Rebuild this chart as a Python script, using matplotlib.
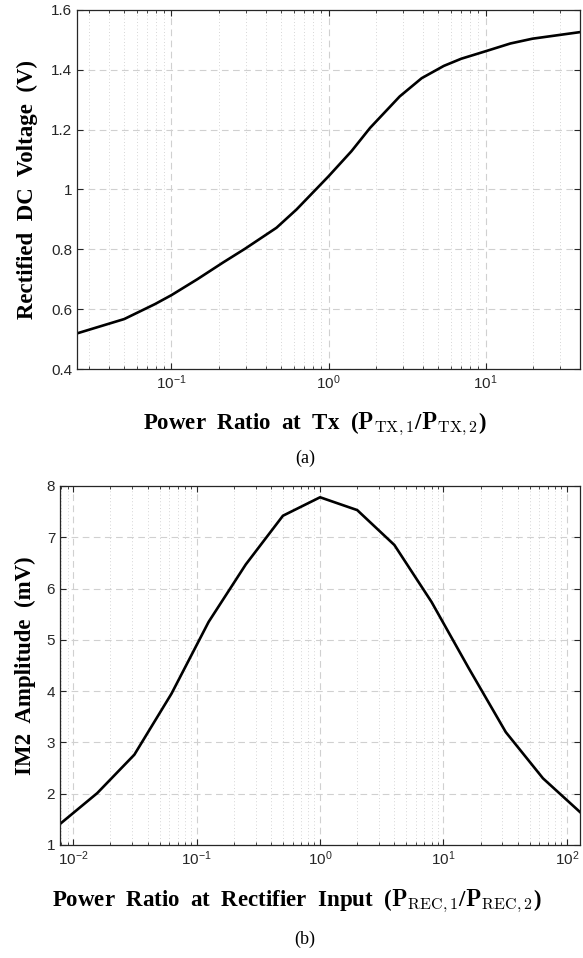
import numpy as np
import matplotlib
matplotlib.use("Agg")
from matplotlib import pyplot as plt
from matplotlib.ticker import LogLocator, FormatStrFormatter, NullFormatter

plt.rcParams["font.family"] = ["Liberation Sans", "DejaVu Sans"]
plt.rcParams["mathtext.fontset"] = "cm"

# (a) rectified DC voltage vs power ratio at Tx
ratio_tx = [0.025, 0.05, 0.0785, 0.1, 0.146, 0.213, 0.294, 0.466, 0.625, 1.0,
            1.4, 1.84, 2.84, 3.92, 5.42, 7.0, 8.8, 10.0, 14.4, 19.9, 40.0]
vdc = [0.519, 0.567, 0.617, 0.647, 0.700, 0.756, 0.802, 0.872, 0.933, 1.044,
       1.128, 1.206, 1.311, 1.372, 1.413, 1.437, 1.453, 1.462, 1.488, 1.504, 1.526]

# (b) IM2 amplitude vs power ratio at rectifier input
ratio_rec = [2.0 ** k for k in range(-7, 8)]
im2 = [1.41, 2.01, 2.76, 3.95, 5.35, 6.47, 7.42, 7.78, 7.53, 6.85,
       5.74, 4.45, 3.20, 2.30, 1.64]

label_font = dict(family="Liberation Serif", fontweight="bold", fontsize=16.5)
cap_font = dict(family="Liberation Serif", fontsize=13)


def style_axis(ax):
    ax.set_xscale("log")
    ax.xaxis.set_major_locator(LogLocator(base=10))
    ax.xaxis.set_minor_locator(LogLocator(base=10, subs=np.arange(2, 10)))
    ax.xaxis.set_minor_formatter(NullFormatter())
    ax.tick_params(which="both", direction="in", top=True, right=True,
                   labelsize=11, colors="#262626")
    ax.tick_params(which="major", length=4, width=0.8)
    ax.tick_params(which="minor", length=2.5, width=0.6)
    ax.grid(True, which="major", linestyle=(0, (6, 4)), color="#d0d0d0", linewidth=0.8)
    ax.grid(True, which="minor", linestyle=(0, (1, 3)), color="#c8c8c8", linewidth=0.6)
    ax.set_axisbelow(True)
    for s in ax.spines.values():
        s.set_color("#262626")
        s.set_linewidth(0.9)


fig = plt.figure(figsize=(5.83, 9.58), dpi=100)

ax1 = fig.add_axes([0.132, 0.6148, 0.863, 0.3748])
ax1.plot(ratio_tx, vdc, color="black", linewidth=1.9)
style_axis(ax1)
ax1.set_xlim(0.025, 40)
ax1.set_ylim(0.4, 1.6)
ax1.set_yticks(np.arange(0.4, 1.61, 0.2))
ax1.yaxis.set_major_formatter(FormatStrFormatter("%g"))
ax1.set_ylabel("Rectified  DC  Voltage  (V)", labelpad=9, **label_font)
ax1.set_xlabel(r"Power  Ratio  at  Tx  ($\mathbf{P}_{\mathrm{TX},1}$/$\mathbf{P}_{\mathrm{TX},2}$)",
               **label_font)
ax1.xaxis.set_label_coords(0.472, -0.114)
fig.text(0.523, 0.522, "(a)", ha="center", va="center", **cap_font)

ax2 = fig.add_axes([0.103, 0.118, 0.892, 0.3747])
ax2.plot(ratio_rec, im2, color="black", linewidth=1.9)
style_axis(ax2)
ax2.set_xlim(1 / 128, 128)
ax2.set_ylim(1, 8)
ax2.set_yticks(range(1, 9))
ax2.set_ylabel("IM2  Amplitude  (mV)", labelpad=8, **label_font)
ax2.set_xlabel(r"Power  Ratio  at  Rectifier  Input  ($\mathbf{P}_{\mathrm{REC},1}$/$\mathbf{P}_{\mathrm{REC},2}$)",
               **label_font)
ax2.xaxis.set_label_coords(0.456, -0.117)
fig.text(0.523, 0.019, "(b)", ha="center", va="center", **cap_font)

fig.savefig("out.png", dpi=100)
